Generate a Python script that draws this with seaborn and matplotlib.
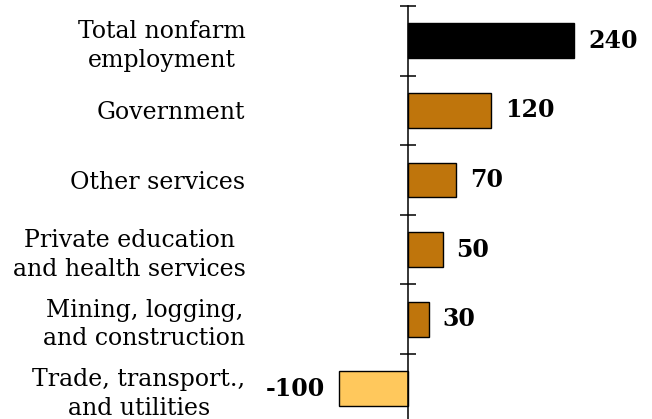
import matplotlib
matplotlib.use("Agg")
import matplotlib.pyplot as plt
import seaborn as sns
import pandas as pd

# dados
categorias = ["Total nonfarm\nemployment", "Government", "Other services",
              "Private education\nand health services",
              "Mining, logging,\nand construction",
              "Trade, transport.,\nand utilities"]
valores = [240, 120, 70, 50, 30, -100]
cores = ["#000000", "#BF750C", "#BF750C", "#BF750C", "#BF750C", "#FFC85C"]

df = pd.DataFrame({"categoria": categorias, "valor": valores})

sns.set_style("white")
plt.rcParams["font.family"] = ["DejaVu Serif"]
plt.rcParams["text.color"] = "black"
plt.rcParams["ytick.color"] = "black"
plt.rcParams["ytick.labelcolor"] = "black"

fig = plt.figure(figsize=(6.52, 4.19), dpi=100)
# eixo ocupa a figura toda; o zero fica em x=408px
ax = fig.add_axes([0, 0, 1, 1 - 6 / 419])

sns.barplot(data=df, x="valor", y="categoria", hue="categoria",
            palette=dict(zip(categorias, cores)), legend=False, saturation=1,
            width=0.5, edgecolor="black", linewidth=1, orient="h", ax=ax)

escala = 166 / 240  # px por unidade
ax.set_xlim(-408 / escala, (652 - 408) / escala)
ax.set_ylim(-0.5 + 413 / 69.6, -0.5)

for c in ax.containers:
    ax.bar_label(c, fmt="%d", padding=10, fontsize=17, fontweight="bold", color="black")

ax.spines["left"].set_position(("data", 0))
ax.spines["left"].set_linewidth(1.1)
ax.spines["left"].set_color("black")
for s in ["top", "right", "bottom"]:
    ax.spines[s].set_visible(False)

ax.set_yticks([i - 0.5 for i in range(len(categorias))], minor=True)
ax.tick_params(axis="y", which="minor", left=True, direction="inout",
               length=11.5, width=1.1, color="black")
ax.tick_params(axis="y", which="major", left=False, length=0, pad=117, labelsize=17)
for t in ax.get_yticklabels():
    t.set_multialignment("center")
    t.set_linespacing(1.3)
ax.set_xticks([])
ax.set_xlabel("")
ax.set_ylabel("")

fig.savefig("out.png", dpi=100)
